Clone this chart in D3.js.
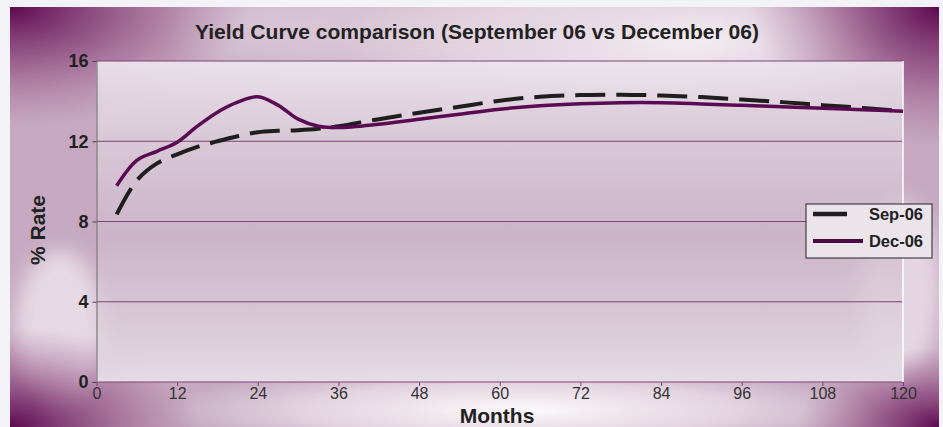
<!DOCTYPE html>
<html>
<head>
<meta charset="utf-8">
<script src="https://cdn.jsdelivr.net/npm/d3@7"></script>
<style>
  html, body { margin: 0; padding: 0; background: #f3f2f6; }
  svg { display: block; }
  text { font-family: "Liberation Sans", Arial, Helvetica, sans-serif; }
</style>
</head>
<body>
<svg id="chart" width="943" height="427"></svg>
<script>
// Term to maturity (months) and yields (%) for the two curves
const months = [3, 6, 9, 12, 15, 18, 21, 24, 27, 30, 33, 36, 42, 48, 54, 60, 66, 72, 78, 84, 90, 96, 102, 108, 114, 120];
const sep06 = [8.35, 10.05, 10.9, 11.35, 11.72, 12.0, 12.25, 12.45, 12.52, 12.55, 12.62, 12.75, 13.1, 13.42, 13.72, 14.02, 14.22, 14.3, 14.32, 14.28, 14.2, 14.08, 13.95, 13.8, 13.66, 13.5];
const dec06 = [9.78, 11.05, 11.5, 11.95, 12.75, 13.45, 13.95, 14.22, 13.8, 13.1, 12.75, 12.68, 12.85, 13.1, 13.35, 13.6, 13.77, 13.87, 13.92, 13.92, 13.86, 13.79, 13.72, 13.64, 13.57, 13.5];
const seriesNames = ["Sep-06", "Dec-06"];
const xTicks = [0, 12, 24, 36, 48, 60, 72, 84, 96, 108, 120];
const yTicks = [0, 4, 8, 12, 16];
const titleText = "Yield Curve comparison (September 06 vs December 06)";

const svg = d3.select("#chart");
const defs = svg.append("defs");

// ---- satin backdrop ----
const panel = { x: 10, y: 7, w: 929, h: 420 };
const plot = { left: 96.5, right: 903, top: 61, bottom: 382 };

const blur = defs.append("filter").attr("id", "soft").attr("x", "-50%").attr("y", "-50%").attr("width", "200%").attr("height", "200%");
blur.append("feGaussianBlur").attr("stdDeviation", 22);
const blurSmall = defs.append("filter").attr("id", "softer").attr("x", "-50%").attr("y", "-50%").attr("width", "200%").attr("height", "200%");
blurSmall.append("feGaussianBlur").attr("stdDeviation", 10);

defs.append("clipPath").attr("id", "panelClip")
  .append("rect").attr("x", panel.x).attr("y", panel.y).attr("width", panel.w).attr("height", panel.h);

function radial(id, stops) {
  const g = defs.append("radialGradient").attr("id", id);
  stops.forEach(s => g.append("stop").attr("offset", s[0]).attr("stop-color", s[1]).attr("stop-opacity", s[2]));
}
radial("cornerDark", [["0%", "#5c0a4e", 1], ["40%", "#7a2a6a", 0.65], ["100%", "#9a5a8c", 0]]);
radial("glow", [["0%", "#ffffff", 0.95], ["60%", "#f6f0f5", 0.6], ["100%", "#f3eef3", 0]]);

const bg = svg.append("g").attr("clip-path", "url(#panelClip)");
bg.append("rect").attr("x", panel.x).attr("y", panel.y).attr("width", panel.w).attr("height", panel.h).attr("fill", "#c6a9c0");

// light sheen across the top and bottom bands
bg.append("ellipse").attr("cx", 640).attr("cy", 40).attr("rx", 300).attr("ry", 70).attr("fill", "url(#glow)");
bg.append("ellipse").attr("cx", 430).attr("cy", 30).attr("rx", 260).attr("ry", 45).attr("fill", "#e2d3df").attr("opacity", 0.7).attr("filter", "url(#soft)");
bg.append("ellipse").attr("cx", 520).attr("cy", 410).attr("rx", 360).attr("ry", 45).attr("fill", "url(#glow)");
bg.append("ellipse").attr("cx", 900).attr("cy", 290).attr("rx", 40).attr("ry", 90).attr("fill", "#ece2ea").attr("opacity", 0.8).attr("filter", "url(#softer)");
bg.append("ellipse").attr("cx", 60).attr("cy", 330).attr("rx", 45).attr("ry", 80).attr("fill", "#eee5ed").attr("opacity", 0.8).attr("filter", "url(#softer)");

// dark corners
bg.append("ellipse").attr("cx", panel.x).attr("cy", panel.y).attr("rx", 240).attr("ry", 120).attr("fill", "url(#cornerDark)");
bg.append("ellipse").attr("cx", panel.x + panel.w).attr("cy", panel.y).attr("rx", 190).attr("ry", 140).attr("fill", "url(#cornerDark)");
bg.append("ellipse").attr("cx", panel.x).attr("cy", panel.y + panel.h).attr("rx", 190).attr("ry", 100).attr("fill", "url(#cornerDark)");
bg.append("ellipse").attr("cx", panel.x + panel.w).attr("cy", panel.y + panel.h).attr("rx", 140).attr("ry", 80).attr("fill", "url(#cornerDark)");

// plot area wash
const wash = defs.append("linearGradient").attr("id", "plotWash").attr("x1", 0).attr("y1", 0).attr("x2", 0).attr("y2", 1);
[["0%", "#ebe4ec", 0.95], ["25%", "#ddd0dc", 0.8], ["55%", "#cfb8cb", 0.7], ["80%", "#dccfda", 0.8], ["100%", "#e6dfe7", 0.95]]
  .forEach(s => wash.append("stop").attr("offset", s[0]).attr("stop-color", s[1]).attr("stop-opacity", s[2]));
svg.append("rect")
  .attr("x", plot.left).attr("y", plot.top)
  .attr("width", plot.right - plot.left).attr("height", plot.bottom - plot.top)
  .attr("fill", "url(#plotWash)");

// ---- scales ----
const x = d3.scaleLinear().domain([0, 120]).range([plot.left, plot.right]);
const y = d3.scaleLinear().domain([0, 16]).range([plot.bottom, plot.top]);

// gridlines
svg.append("g").selectAll("line").data(yTicks).join("line")
  .attr("x1", plot.left).attr("x2", plot.right)
  .attr("y1", d => y(d)).attr("y2", d => y(d))
  .attr("stroke", "#7e4278").attr("stroke-width", 1.2);

// right edge of plot area
svg.append("line")
  .attr("x1", plot.right).attr("x2", plot.right)
  .attr("y1", plot.top).attr("y2", plot.bottom)
  .attr("stroke", "#ffffff").attr("stroke-width", 1.5);

// y axis
const yAxis = svg.append("g")
  .attr("transform", `translate(${plot.left},0)`)
  .call(d3.axisLeft(y).tickValues(yTicks).tickSize(4).tickPadding(4).tickFormat(d3.format("d")));
yAxis.select(".domain").attr("stroke", "#7a7a7a").attr("stroke-width", 1.2);
yAxis.selectAll(".tick line").attr("stroke", "#444");
yAxis.selectAll(".tick text")
  .attr("fill", "#222").attr("font-size", 18).attr("font-weight", "bold")
  .style("font-family", "'Liberation Sans', Arial, sans-serif");

// x axis
const xAxis = svg.append("g")
  .attr("transform", `translate(0,${plot.bottom})`)
  .call(d3.axisBottom(x).tickValues(xTicks).tickSize(4).tickPadding(2).tickFormat(d3.format("d")));
xAxis.select(".domain").remove();
xAxis.selectAll(".tick line").attr("stroke", "#7e4278");
xAxis.selectAll(".tick text")
  .attr("fill", "#333").attr("font-size", 16)
  .style("font-family", "'Liberation Sans', Arial, sans-serif");

// ---- series ----
const line = d3.line()
  .x((d, i) => x(months[i]))
  .y(d => y(d))
  .curve(d3.curveCatmullRom.alpha(0.5));

svg.append("path").datum(sep06)
  .attr("d", line)
  .attr("fill", "none").attr("stroke", "#1e1e1e")
  .attr("stroke-width", 4).attr("stroke-dasharray", "30,11");

svg.append("path").datum(dec06)
  .attr("d", line)
  .attr("fill", "none").attr("stroke", "#5a0a52")
  .attr("stroke-width", 3.5).attr("stroke-linejoin", "round");

// ---- titles ----
svg.append("text")
  .attr("x", 477).attr("y", 39)
  .attr("text-anchor", "middle")
  .attr("font-size", 21).attr("font-weight", "bold").attr("fill", "#222")
  .attr("textLength", 564).attr("lengthAdjust", "spacingAndGlyphs")
  .text(titleText);

svg.append("text")
  .attr("transform", "translate(45,230) rotate(-90)")
  .attr("text-anchor", "middle")
  .attr("font-size", 21).attr("font-weight", "bold").attr("fill", "#222")
  .text("% Rate");

svg.append("text")
  .attr("x", 497).attr("y", 423)
  .attr("text-anchor", "middle")
  .attr("font-size", 21).attr("font-weight", "bold").attr("fill", "#222")
  .text("Months");

// ---- legend ----
const legend = svg.append("g").attr("transform", "translate(806,204)");
legend.append("rect")
  .attr("width", 126).attr("height", 54)
  .attr("fill", "#ebe4ea").attr("stroke", "#222").attr("stroke-width", 1);
const legendStyles = [
  { color: "#1e1e1e", len: 34, w: 4.5 },
  { color: "#4a0844", len: 50, w: 4 }
];
seriesNames.forEach((name, i) => {
  const yy = 10 + i * 27;
  legend.append("line")
    .attr("x1", 7).attr("x2", 7 + legendStyles[i].len)
    .attr("y1", yy).attr("y2", yy)
    .attr("stroke", legendStyles[i].color).attr("stroke-width", legendStyles[i].w);
  legend.append("text")
    .attr("x", 117).attr("y", yy + 6)
    .attr("text-anchor", "end")
    .attr("font-size", 16.5).attr("font-weight", "bold").attr("fill", "#222")
    .text(name);
});
</script>
</body>
</html>
